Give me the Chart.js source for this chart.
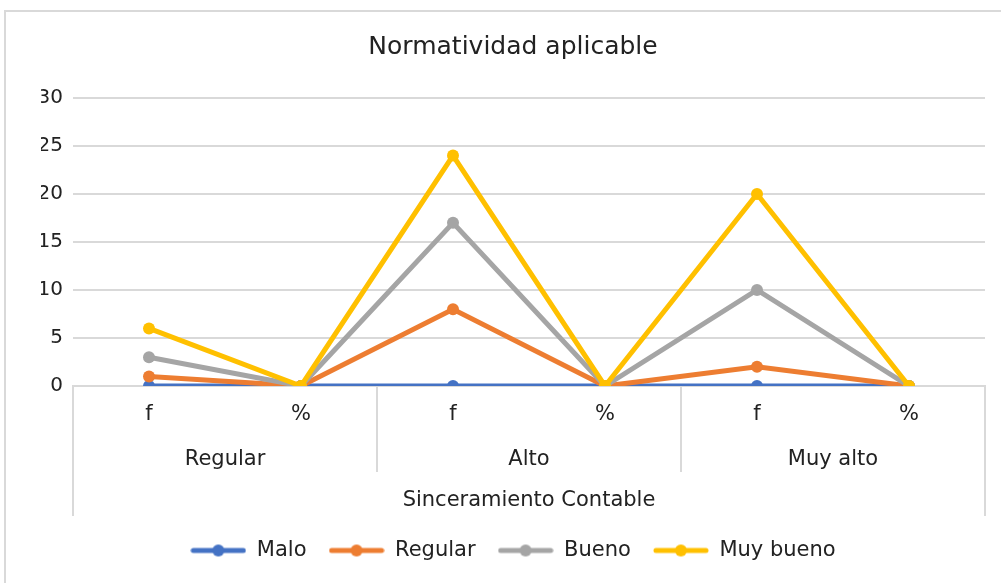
<!DOCTYPE html>
<html>
<head>
<meta charset="utf-8">
<script src="https://cdn.jsdelivr.net/npm/chart.js@4"></script>
<style>
  html, body { margin: 0; padding: 0; background: #fff; overflow: hidden; }
  #frame { position: absolute; left: 4px; top: 10px; width: 1100px; height: 700px; border: 2px solid #d9d9d9; box-sizing: border-box; }
  #wrap { position: absolute; left: 0; top: 0; width: 1001px; height: 583px; }
</style>
</head>
<body>
<div id="frame"></div>
<div id="wrap"><canvas id="myChart"></canvas></div>
<script>
// data
var chartTitle = "Normatividad aplicable";
var tickLabels = ["f", "%", "f", "%", "f", "%"];
var groupLabels = ["Regular", "Alto", "Muy alto"];
var outerLabel = "Sinceramiento Contable";
var yTicks = [0, 5, 10, 15, 20, 25, 30];

var seriesNames = ["Malo", "Regular", "Bueno", "Muy bueno"];
var malo     = [0, 0, 0, 0, 0, 0];
var regular  = [1, 0, 8, 0, 2, 0];
var bueno    = [3, 0, 17, 0, 10, 0];
var muyBueno = [6, 0, 24, 0, 20, 0];

var colors = ["#4472C4", "#ED7D31", "#A5A5A5", "#FFC000"];
var FONT = "'DejaVu Sans', sans-serif";
var TEXT = "#222";
var GRID = "#d9d9d9";

// little line+marker picture for the legend
function legendIcon(color) {
  var c = document.createElement("canvas");
  c.width = 56;
  c.height = 14;
  var g = c.getContext("2d");
  g.strokeStyle = color;
  g.lineWidth = 5;
  g.lineCap = "round";
  g.beginPath();
  g.moveTo(3, 7);
  g.lineTo(53, 7);
  g.stroke();
  g.fillStyle = color;
  g.beginPath();
  g.arc(28, 7, 6, 0, Math.PI * 2);
  g.fill();
  return c;
}

function makeSet(i, data) {
  return {
    label: seriesNames[i],
    data: data,
    borderColor: colors[i],
    backgroundColor: colors[i],
    borderWidth: 5,
    pointRadius: 6,
    pointBackgroundColor: colors[i],
    pointBorderColor: colors[i],
    pointBorderWidth: 0,
    tension: 0,
    fill: false,
    order: 3 - i
  };
}

// draws the grouped category rows under the x axis
var groupAxis = {
  id: "groupAxis",
  afterDraw: function(chart) {
    var ctx = chart.ctx;
    var x = chart.scales.x;
    var area = chart.chartArea;
    var half = (x.getPixelForValue(1) - x.getPixelForValue(0)) / 2;
    var y0 = area.bottom;

    ctx.save();
    ctx.strokeStyle = GRID;
    ctx.lineWidth = 2;
    ctx.beginPath();
    // outer edges
    ctx.moveTo(area.left, y0);
    ctx.lineTo(area.left, y0 + 130);
    ctx.moveTo(area.right, y0);
    ctx.lineTo(area.right, y0 + 130);
    // between groups
    for (var g = 1; g < groupLabels.length; g++) {
      var bx = Math.round(x.getPixelForValue(g * 2) - half);
      ctx.moveTo(bx, y0);
      ctx.lineTo(bx, y0 + 86);
    }
    ctx.stroke();

    ctx.fillStyle = TEXT;
    ctx.font = "21px " + FONT;
    ctx.textAlign = "center";
    ctx.textBaseline = "middle";
    for (var k = 0; k < groupLabels.length; k++) {
      var cx = (x.getPixelForValue(k * 2) + x.getPixelForValue(k * 2 + 1)) / 2;
      ctx.fillText(groupLabels[k], cx, y0 + 74);
    }
    ctx.fillText(outerLabel, (area.left + area.right) / 2, y0 + 115);
    ctx.restore();
  }
};

var ctx = document.getElementById("myChart").getContext("2d");

var myChart = new Chart(ctx, {
  type: "line",
  data: {
    labels: tickLabels,
    datasets: [
      makeSet(0, malo),
      makeSet(1, regular),
      makeSet(2, bueno),
      makeSet(3, muyBueno)
    ]
  },
  options: {
    responsive: true,
    maintainAspectRatio: false,
    animation: false,
    layout: { padding: { top: 10, left: 41, right: 16, bottom: 12 } },
    plugins: {
      title: {
        display: true,
        text: chartTitle,
        color: TEXT,
        font: { family: FONT, size: 25, weight: "normal" },
        padding: { top: 22, bottom: 36 }
      },
      legend: {
        display: true,
        position: "bottom",
        labels: {
          color: TEXT,
          font: { family: FONT, size: 21 },
          usePointStyle: true,
          pointStyleWidth: 56,
          padding: 22,
          sort: function(a, b) { return a.datasetIndex - b.datasetIndex; },
          generateLabels: function(chart) {
            var items = Chart.defaults.plugins.legend.labels.generateLabels(chart);
            for (var i = 0; i < items.length; i++) {
              items[i].pointStyle = legendIcon(colors[items[i].datasetIndex]);
            }
            return items;
          }
        }
      },
      tooltip: { enabled: false }
    },
    scales: {
      x: {
        offset: true,
        grid: { display: false, drawTicks: false },
        border: { display: true, color: GRID, width: 2 },
        ticks: {
          color: TEXT,
          font: { family: FONT, size: 21 },
          padding: 16,
          maxRotation: 0
        },
        afterFit: function(scale) { scale.height = 132; }
      },
      y: {
        min: 0,
        max: 30,
        afterBuildTicks: function(scale) {
          scale.ticks = yTicks.map(function(v) { return { value: v }; });
        },
        grid: { color: GRID, lineWidth: 2, drawTicks: false },
        border: { display: false },
        ticks: {
          color: TEXT,
          font: { family: FONT, size: 20 },
          padding: 10
        },
        afterFit: function(scale) { scale.width = 32; }
      }
    }
  },
  plugins: [groupAxis]
});
</script>
</body>
</html>
